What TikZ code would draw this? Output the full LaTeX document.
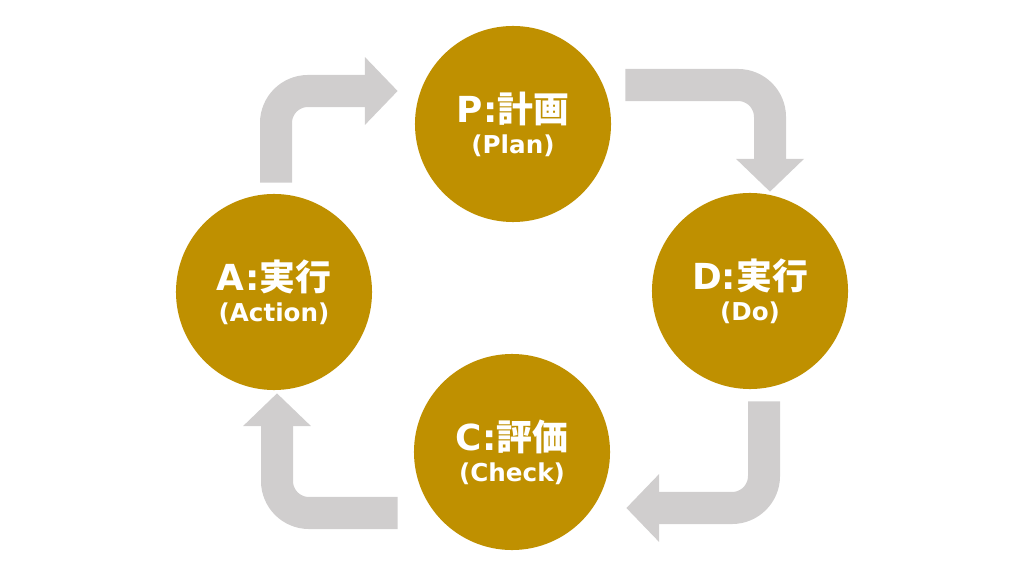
\documentclass[tikz,border=0pt]{standalone}
\usepackage{fontspec}
\setmainfont{DejaVu Sans}
\newfontfamily\jpfont{Noto Sans CJK JP}
\usepackage{tikz}
\usetikzlibrary{arrows.meta,calc}
\definecolor{pdcagold}{HTML}{BF9000}
\definecolor{pdcagray}{HTML}{D0CECE}
\newcommand{\jp}[1]{{\jpfont #1}}
\newcommand{\stage}[2]{{\fontsize{25.5}{25.5}\selectfont #1}\\{#2}}

\begin{document}
\begin{tikzpicture}[x=0.025cm, y=-0.025cm,
       stagecirc/.style={circle, fill=pdcagold, text=white, inner sep=0pt,
         minimum size=4.9cm, align=center,
         font=\fontsize{17.5}{22}\selectfont\bfseries},
       cycarrow/.style={pdcagray, line width=0.8cm, rounded corners=0.8cm,
         -{Triangle[width=1.65cm,length=0.82cm]}}]
      \useasboundingbox (0,0) rectangle (1024,576);
      \node[stagecirc] (P) at (513, 124) {\stage{P:\jp{計画}}{(Plan)}};
      \node[stagecirc] (D) at (750, 291) {\stage{D:\jp{実行}}{(Do)}};
      \node[stagecirc] (C) at (512, 452) {\stage{C:\jp{評価}}{(Check)}};
      \node[stagecirc] (A) at (274, 292) {\stage{A:\jp{実行}}{(Action)}};
      \draw[cycarrow] ($(A.north)+(2,-11)$) |- ($(P.west)+(-17,-33)$);
      \draw[cycarrow] ($(P.east)+(14,-39)$) -| ($(D.north)+(20,-1)$);
      \draw[cycarrow] ($(D.south)+(14,12)$) |- ($(C.east)+(16,56)$);
      \draw[cycarrow] ($(C.west)+(-16,61)$) -| ($(A.south)+(3,3)$);
\end{tikzpicture}
\end{document}
